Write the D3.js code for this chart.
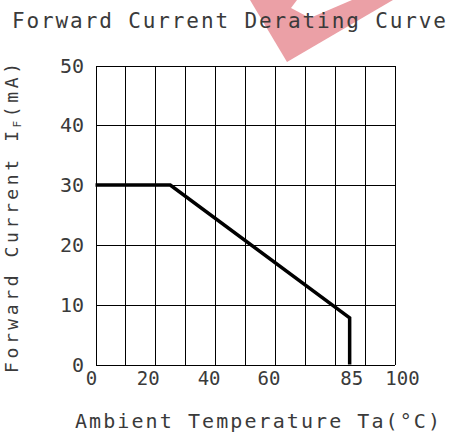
<!DOCTYPE html>
<html>
<head>
<meta charset="utf-8">
<script src="https://cdn.jsdelivr.net/npm/d3@7"></script>
<style>
  html, body { margin: 0; padding: 0; background: #fff; }
  text { font-family: "DejaVu Sans Mono", monospace; fill: #3a3a3a; }
</style>
</head>
<body>
<script>
// derating curve
var tempC = [0, 25, 85, 85];
var currentMA = [30, 30, 7.8, 0];
var xTicks = [0, 20, 40, 60, 85, 100];
var yTicks = [0, 10, 20, 30, 40, 50];
var gridX = d3.range(0, 101, 10);
var gridY = d3.range(0, 51, 10);

var w = 449, h = 434;
var svg = d3.select("body").append("svg")
    .attr("width", w)
    .attr("height", h);

// pink watermark behind the title
svg.append("polygon")
    .attr("points", "250,0 393,0 287,62")
    .attr("fill", "#eba0a6");
svg.append("polygon")
    .attr("points", "297,0 352,0 310,18 291,8")
    .attr("fill", "#ffffff");

var x = d3.scaleLinear().domain([0, 100]).range([95.5, 394.5]);
var y = d3.scaleLinear().domain([0, 50]).range([364.5, 65.5]);

// grid
var grid = svg.append("g")
    .attr("stroke", "#000")
    .attr("stroke-width", 1)
    .attr("shape-rendering", "crispEdges");

grid.selectAll("line.v").data(gridX).enter().append("line")
    .attr("class", "v")
    .attr("x1", function(d) { return Math.round(x(d)) + 0.5; })
    .attr("x2", function(d) { return Math.round(x(d)) + 0.5; })
    .attr("y1", y(50)).attr("y2", y(0));

grid.selectAll("line.h").data(gridY).enter().append("line")
    .attr("class", "h")
    .attr("y1", function(d) { return Math.round(y(d)) + 0.5; })
    .attr("y2", function(d) { return Math.round(y(d)) + 0.5; })
    .attr("x1", x(0)).attr("x2", x(100));

// curve
var line = d3.line()
    .x(function(d, i) { return x(tempC[i]); })
    .y(function(d) { return y(d); });

svg.append("path")
    .datum(currentMA)
    .attr("d", line)
    .attr("fill", "none")
    .attr("stroke", "#000")
    .attr("stroke-width", 3.5)
    .attr("stroke-linejoin", "miter");

// tick labels (the original nudges some of them)
var xNudge = {0: -4, 20: -7, 40: -6, 60: -6, 85: 2, 100: 8};
svg.selectAll("text.xt").data(xTicks).enter().append("text")
    .attr("class", "xt")
    .attr("x", function(d) { return x(d) + xNudge[d]; })
    .attr("y", 385)
    .attr("text-anchor", "middle")
    .attr("font-size", 19)
    .text(function(d) { return d; });

svg.selectAll("text.yt").data(yTicks).enter().append("text")
    .attr("class", "yt")
    .attr("x", 84)
    .attr("y", function(d) { return y(d) + 7; })
    .attr("text-anchor", "end")
    .attr("font-size", 20)
    .text(function(d) { return d; });

// titles
svg.append("text")
    .attr("x", 12).attr("y", 28)
    .attr("font-size", 21)
    .attr("textLength", 434)
    .attr("lengthAdjust", "spacing")
    .text("Forward Current Derating Curve");

svg.append("text")
    .attr("x", 75).attr("y", 428)
    .attr("font-size", 20)
    .attr("textLength", 365)
    .attr("lengthAdjust", "spacing")
    .text("Ambient Temperature Ta(\u00b0C)");

var yt = svg.append("text")
    .attr("transform", "translate(18,373) rotate(-90)")
    .attr("font-size", 18)
    .attr("textLength", 310)
    .attr("lengthAdjust", "spacing");
yt.append("tspan").text("Forward Current I");
yt.append("tspan").attr("font-size", 11).attr("dy", 3).text("F");
yt.append("tspan").attr("dy", -3).text("(mA)");
</script>
</body>
</html>
